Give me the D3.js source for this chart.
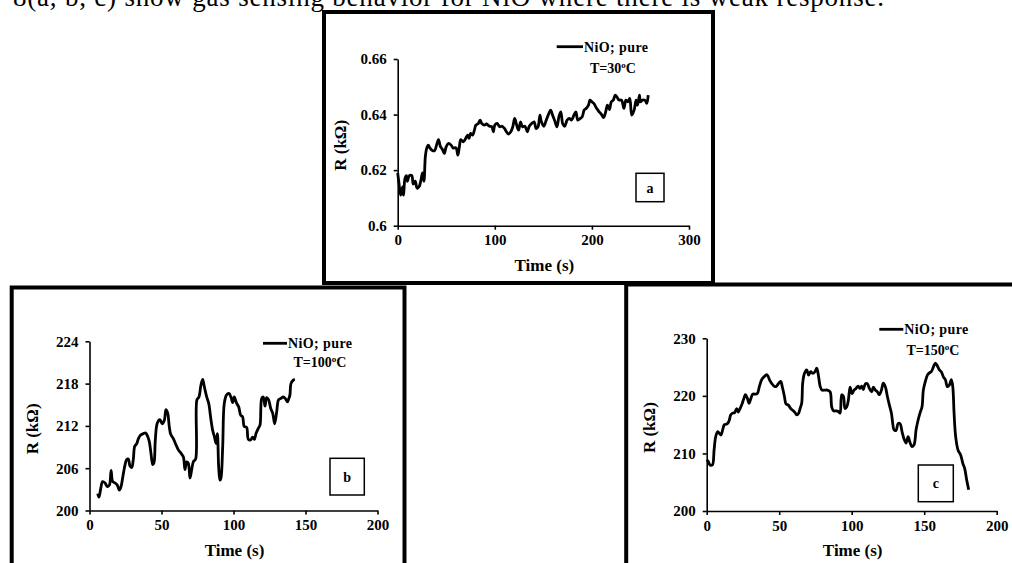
<!DOCTYPE html>
<html>
<head>
<meta charset="utf-8">
<script src="https://cdn.jsdelivr.net/npm/d3@7"></script>
<style>
  html, body { margin: 0; padding: 0; background: #fff; }
  svg { display: block; }
  text { font-family: "Liberation Serif", "Times New Roman", serif; }
</style>
</head>
<body>
<svg id="chart" width="1012" height="563"></svg>
<script>
// ---------------- DATA ----------------
const captionText = "8(a, b, c) show gas sensing behavior for NiO where there is weak response.";
const legendName = "NiO; pure";

// Panel a (T = 30 °C)
const timeA = [0,1.4,3,5,6,7.5,9,10,12,14.5,16,18,20,22,24,25.5,27,28.5,30,31.5,33,36,38,40,42,44,46,48,50,52.5,55,57,60,62,63.5,65,67.5,70,72,73.5,75,77,79,80.5,83,85,86.5,89,91.5,94.5,97,98.5,100,102.5,105,107.5,110,112,114,116.5,118.5,120.5,122.5,124.5,126.5,128.5,131,133.5,135.5,138,140.5,142.5,144.5,146.5,148,150.5,153,155,157.5,159.5,161.5,164,166,168,170,172,174.5,177,179,181.5,183.5,185.5,188,190,192,194,196.5,198,200,202,205,207.5,210,212,214,216,218,220,222,224,226,228,230.5,233,235,237,239,241,243.5,245.5,247,249,250,252,254.5,256.5,258];
const resA = [0.619,0.615,0.611,0.614,0.611,0.617,0.618,0.616,0.618,0.618,0.615,0.616,0.6135,0.614,0.6165,0.619,0.616,0.625,0.628,0.629,0.628,0.627,0.627,0.629,0.631,0.6285,0.6275,0.626,0.6285,0.6296,0.629,0.628,0.628,0.6254,0.6284,0.631,0.6302,0.6314,0.6326,0.6314,0.6332,0.6326,0.6344,0.6362,0.6368,0.638,0.6368,0.6362,0.6366,0.6358,0.6356,0.6338,0.6362,0.6368,0.6356,0.6358,0.635,0.6338,0.633,0.6338,0.6356,0.6386,0.6362,0.6344,0.6374,0.6356,0.6358,0.6338,0.6358,0.6368,0.6374,0.635,0.6356,0.6398,0.6374,0.6358,0.638,0.6398,0.6416,0.6398,0.638,0.6356,0.6392,0.641,0.6366,0.6358,0.638,0.6386,0.638,0.6398,0.641,0.638,0.6386,0.6392,0.6416,0.6422,0.6434,0.6452,0.6446,0.644,0.6422,0.641,0.64,0.6389,0.6407,0.6434,0.6418,0.6446,0.6452,0.647,0.6462,0.6452,0.6452,0.6422,0.6452,0.6446,0.6458,0.6398,0.6416,0.6452,0.6434,0.647,0.6446,0.6452,0.6452,0.644,0.647];
const xTicksA = [0, 100, 200, 300];
const yTicksA = [0.6, 0.62, 0.64, 0.66];
const yTickLabelsA = ["0.6", "0.62", "0.64", "0.66"];

// Panel b (T = 100 °C)
const timeB = [5.7,6.6,7.8,9.1,10.8,12.4,13.8,15,16.1,17.7,19.3,20.7,21.9,23,24.2,25.8,27,28.1,29.3,30.4,31.4,32.8,34,35.5,37.4,39,40.4,41.5,42.7,43.9,44.8,45.7,47.1,48.9,50.5,52,53.1,54.3,55.4,56.4,58.2,60.1,61.7,63.6,65.2,66.3,67.5,68.6,69.8,70.9,72.1,73.7,74.6,76,77.4,78.6,79.7,81.4,82.8,84.2,85.5,86.7,87.9,88.8,89.7,90.6,91.3,92.5,93.6,95.2,96.8,98.2,99.4,100.5,102.2,103.6,105,106.3,107.5,109.1,110.3,111.9,113.3,114.5,115.6,117.3,118.4,119.6,120.7,121.9,123,124.4,125.8,127.2,128.6,130,131.3,132.9,134.5,135.9,137.4,138.3,139.2,139.9,141.5,142.6];
const resB = [202.4,201.9,203.1,204.1,203.9,203.4,203.6,205.7,204.1,203.9,203.6,202.9,203.4,204.6,206,207.2,207.3,206.3,206.1,207.2,209.1,209.5,210.2,210.7,210.9,211,210.5,209.8,208.1,206.5,206.8,210,212.4,212.9,212.3,212.8,214.3,213.8,211.9,210.8,210.2,209.3,208.6,208.1,207.6,205.8,206.9,206.7,204.6,205.7,206.9,207.3,215.7,216.1,217.8,218.6,217.6,216.1,215.2,213.1,211.4,210.5,209.5,210.9,206.2,204.3,204.6,209.1,215.2,216.4,216.6,216.1,215.3,216.1,215.2,214.7,213.5,213.3,211.9,211.8,210.1,210,210.4,210.1,210.9,211.7,212.1,215.9,216.1,214.8,216,215.7,214.5,213.8,212.3,214,215.7,215.9,216.1,215.9,215.4,215.8,216.4,218,218.5,218.6];
const xTicksB = [0, 50, 100, 150, 200];
const yTicksB = [200, 206, 212, 218, 224];
const yTickLabelsB = ["200", "206", "212", "218", "224"];

// Panel c (T = 150 °C)
const timeC = [0,1.1,2.3,3.9,5.1,6.2,7.6,8.7,9.9,11,12.2,13.8,15.2,16.6,17.9,19.3,20.7,21.8,23,24.1,25.3,26.7,28,29.2,30.3,31.7,33.3,34.9,36.3,37.9,39.5,41.4,42.5,43.7,45,46.4,47.8,49.4,51,52.2,53.6,54.7,56.3,57.9,59.3,60.9,62.1,63.4,64.4,65.5,66.2,67.4,69,70.3,71.7,73.1,74.7,75.9,77.2,78.2,79.5,81.4,83.2,85.1,86.2,87.4,89.2,90.8,92,93.1,94.3,95.4,96.6,97.7,98.9,100.2,101.6,103,104.4,105.7,106.9,108,109.4,110.8,112.2,113.8,114.9,116.3,117.7,119.1,120.5,121.8,123.2,124.6,126,127.4,128.3,129.2,130.6,132,133.3,134.7,136.1,137.5,138.9,140.2,141.6,143,144.4,145.8,147.1,148.5,149.4,150.8,152.2,153.6,154.9,156.3,157.7,159.1,160.5,161.8,163.2,164.6,166,167.4,168.7,169.7,170.6,171.7,173.3,175.2,176.6,177.9,179.3,180.7];
const resC = [208.9,208.6,208,208,210.6,212.9,213.8,213.5,213.2,214.1,215,215.1,215.5,216.7,217,217.1,217.8,217.2,217.8,218.4,219.3,220.2,219.6,218.7,219.4,220.3,220.3,220.4,221.6,222.8,223.3,223.7,223.3,222.6,222.1,221.7,221.6,222.1,222.5,221.5,219.9,218.6,218.4,217.8,217.5,217.1,216.7,217,217.8,218.7,222.2,223.9,224.5,223.6,224.2,223.9,224.2,224.8,223.3,221.7,221,221,221,220.7,218.1,217.4,217.4,217.3,217,220.2,219.9,217.8,218.1,219.3,221.5,220.4,221,221.3,221.7,221.3,221.7,221.1,222.1,222.1,221.3,220.7,221.5,221,220.7,220.2,221,222.2,221.6,219.9,218.4,217,215.2,214.1,214,215.2,215.2,213.8,212.5,211.8,212.9,211.9,211.2,211.5,214.1,215.8,217,218.1,221,222.5,223.6,224,224.2,225,225.7,225.2,224.5,224.2,223.3,222.8,221.6,221.9,222.8,221.6,217,212.9,210.6,209.7,208.3,207.4,205.4,203.7];
const xTicksC = [0, 50, 100, 150, 200];
const yTicksC = [200, 210, 220, 230];
const yTickLabelsC = ["200", "210", "220", "230"];

// ---------------- LAYOUT ----------------
const panels = [
  { time: timeA, res: resA, xTicks: xTicksA, yTicks: yTicksA, yLabels: yTickLabelsA,
    xDom: [0, 300], yDom: [0.6, 0.66], xR: [397.7, 689], yR: [225.7, 59],
    frame: { x: 324, y: 12, w: 389, h: 271 },
    temp: "30", legLine: [556.7, 583, 46.7], tempPos: [613, 73],
    tag: "a", tagBox: [636, 173.3, 28, 28.4] },
  { time: timeB, res: resB, xTicks: xTicksB, yTicks: yTicksB, yLabels: yTickLabelsB,
    xDom: [0, 200], yDom: [200, 224], xR: [89.5, 377.5], yR: [510.5, 341.3],
    frame: { x: 11.7, y: 287.5, w: 392.8, h: 320 },
    temp: "100", legLine: [263, 287, 343.3], tempPos: [320, 367],
    tag: "b", tagBox: [330, 458.3, 34.3, 36.7] },
  { time: timeC, res: resC, xTicks: xTicksC, yTicks: yTicksC, yLabels: yTickLabelsC,
    xDom: [0, 200], yDom: [200, 230], xR: [706.7, 996.7], yR: [511, 338.3],
    frame: { x: 626.2, y: 284.5, w: 420, h: 320 },
    temp: "150", legLine: [879.3, 903.3, 329.3], tempPos: [933, 355],
    tag: "c", tagBox: [918.3, 465, 35, 36.7] }
];

const svg = d3.select("#chart");
svg.append("rect").attr("width", 1012).attr("height", 563).attr("fill", "#fff");

// caption (cut off at the top edge, as in the source page)
svg.append("text")
  .attr("x", 13).attr("y", 6)
  .attr("font-size", 27)
  .attr("textLength", 871).attr("lengthAdjust", "spacing")
  .attr("fill", "#000")
  .text(captionText);

// frames first
panels.forEach(p => {
  svg.append("rect")
    .attr("x", p.frame.x).attr("y", p.frame.y)
    .attr("width", p.frame.w).attr("height", p.frame.h)
    .attr("fill", "none").attr("stroke", "#000").attr("stroke-width", 4);
});

panels.forEach(p => {
  const g = svg.append("g");
  const x = d3.scaleLinear().domain(p.xDom).range(p.xR);
  const y = d3.scaleLinear().domain(p.yDom).range(p.yR);

  const xAxis = d3.axisBottom(x).tickValues(p.xTicks).tickFormat(d3.format("d"))
    .tickSizeInner(4).tickSizeOuter(0).tickPadding(5);
  const yAxis = d3.axisLeft(y).tickValues(p.yTicks).tickFormat((d, i) => p.yLabels[i])
    .tickSizeInner(4).tickSizeOuter(0).tickPadding(7);

  const gx = g.append("g").attr("transform", `translate(0,${p.yR[0]})`).call(xAxis);
  const gy = g.append("g").attr("transform", `translate(${p.xR[0]},0)`).call(yAxis);
  [gx, gy].forEach(a => {
    a.selectAll("path, line").attr("stroke", "#000").attr("stroke-width", 1.6);
    a.selectAll("text").attr("font-family", "Liberation Serif, serif")
      .attr("font-size", 15).attr("font-weight", "bold").attr("fill", "#000");
  });
  gx.selectAll("text").attr("dy", "0.71em");

  // data line
  const line = d3.line()
    .x((d, i) => x(p.time[i]))
    .y((d, i) => y(p.res[i]))
    .curve(d3.curveCatmullRom.alpha(0.5));
  g.append("path").datum(p.res)
    .attr("d", line)
    .attr("fill", "none").attr("stroke", "#000")
    .attr("stroke-width", 2.8).attr("stroke-linejoin", "round");

  // axis titles
  g.append("text")
    .attr("x", (p.xR[0] + p.xR[1]) / 2 + 1).attr("y", p.yR[0] + 45)
    .attr("text-anchor", "middle").attr("font-size", 17).attr("font-weight", "bold")
    .text("Time (s)");
  const cy = (p.yR[0] + p.yR[1]) / 2 + 3;
  const cx = p.xR[0] - 52;
  g.append("text")
    .attr("transform", `translate(${cx},${cy}) rotate(-90)`)
    .attr("text-anchor", "middle").attr("font-size", 17).attr("font-weight", "bold")
    .text("R (kΩ)");

  // legend
  const [lx0, lx1, ly] = p.legLine;
  g.append("line").attr("x1", lx0).attr("x2", lx1).attr("y1", ly).attr("y2", ly)
    .attr("stroke", "#000").attr("stroke-width", 2.8);
  g.append("text").attr("x", lx1 + 1).attr("y", ly + 5)
    .attr("font-size", 14).attr("font-weight", "bold").attr("letter-spacing", 0.4)
    .text(legendName);
  const t = g.append("text").attr("x", p.tempPos[0]).attr("y", p.tempPos[1])
    .attr("text-anchor", "middle").attr("font-size", 14).attr("font-weight", "bold");
  t.append("tspan").text("T=" + p.temp);
  t.append("tspan").attr("font-size", 9).attr("dy", -5).text("o");
  t.append("tspan").attr("dy", 5).text("C");

  // tag box
  const [bx, by, bw, bh] = p.tagBox;
  g.append("rect").attr("x", bx).attr("y", by).attr("width", bw).attr("height", bh)
    .attr("fill", "#fff").attr("stroke", "#000").attr("stroke-width", 1.5);
  g.append("text").attr("x", bx + bw / 2).attr("y", by + bh / 2 + 5)
    .attr("text-anchor", "middle").attr("font-size", 14).attr("font-weight", "bold")
    .text(p.tag);
});
</script>
</body>
</html>
